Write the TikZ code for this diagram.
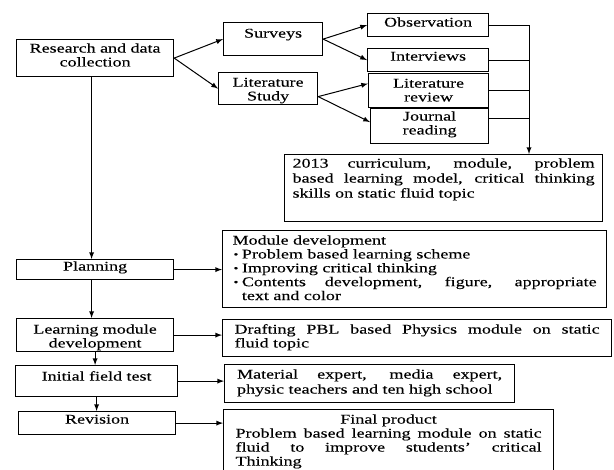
\documentclass[tikz,border=0pt]{standalone}
\usepackage{fontspec}
\setmainfont{Liberation Serif}[FakeStretch=1.35,FakeBold=0.15]
\usetikzlibrary{calc}

\tikzset{
  box/.style={draw, line width=0.9pt, anchor=north west, inner ysep=0pt, inner xsep=0pt, align=center},
  textbox/.style={box, inner xsep=9pt, align=justify},
  arrow/.style={-latex, line width=0.75pt},
}
\newenvironment{bullets}{\begin{list}{\hspace{0.75pt}\raisebox{0.6pt}{\scalebox{0.75}{\textbullet}}}{\setlength\leftmargin{7pt}\setlength\labelwidth{7pt}\setlength\labelsep{0pt}\setlength\topsep{0pt}\setlength\partopsep{0pt}\setlength\itemsep{0pt}\setlength\parsep{0pt}\let\makelabel\bulletlabel}}{\end{list}}
\newcommand\bulletlabel[1]{\makebox[7pt][l]{#1}}

\begin{document}
\begin{tikzpicture}[x=0.75pt,y=0.75pt,yscale=-1,xscale=1,font=\fontsize{10}{10.4}\selectfont]
\path[use as bounding box, clip] (0,0) rectangle (614,470);

% data collection
\node[box, text width=117.75pt, text height=9.75pt, text depth=18pt] (research) at (16,39) {Research and data\\collection};
\node[box, text width=74.25pt, text height=11.25pt, text depth=13.5pt] (surveys) at (223,22) {Surveys};
\node[box, text width=74.25pt, text height=10.5pt, text depth=13.5pt] (litstudy) at (218,72) {Literature\\Study};
\node[box, text width=90.75pt, text height=9.75pt, text depth=7.5pt] (observation) at (367,13) {Observation};
\node[box, text width=90.75pt, text height=9pt, text depth=8.25pt] (interviews) at (367,48) {Interviews};
\node[box, text width=90pt, text height=10.5pt, text depth=15pt] (litreview) at (368,73) {Literature\\review};
\node[box, text width=88.5pt, text height=9pt, text depth=17.25pt] (journal) at (370,108) {Journal\\reading};
\node[textbox, inner xsep=6pt, text width=226.5pt, text height=9.75pt, text depth=40.5pt, font=\fontsize{10}{11.25}\selectfont] (curriculum) at (284,154) {2013 curriculum, module, problem\linebreak based learning model, critical thinking\linebreak skills on static fluid topic};

% stages
\node[box, text width=117.75pt, text height=8.25pt, text depth=6.75pt] (planning) at (16,259) {Planning};
\node[box, text width=117.75pt, text height=11.25pt, text depth=13.5pt] (learning) at (16,318) {Learning module\\development};
\node[box, text width=121.5pt, text height=11.25pt, text depth=12pt] (initial) at (15,365) {Initial field test};
\node[box, text width=117.75pt, text height=9pt, text depth=8.25pt] (revision) at (18,411) {Revision};

% outputs
\node[textbox, inner xsep=7.5pt, text width=273pt, text height=10.5pt, text depth=47.25pt] (module) at (222,230) {Module development
  \begin{bullets}
    \item Problem based learning scheme
    \item Improving critical thinking
    \item Contents development, figure, appropriate\linebreak text and color
  \end{bullets}};
\node[textbox, text width=273.75pt, text height=10.5pt, text depth=17.25pt] (drafting) at (222,319) {Drafting PBL based Physics module on static\linebreak fluid topic};
\node[textbox, inner xsep=9.375pt, text width=198.75pt, text height=10.5pt, text depth=18pt, font=\fontsize{10}{11.25}\selectfont] (material) at (224,364) {Material expert, media expert,\linebreak physic teachers and ten high school};
\node[textbox, text width=229.5pt, text height=10.5pt, text depth=42.75pt, font=\fontsize{10}{10.5}\selectfont] (final) at (223,409) {{\centering Final product\par}Problem based learning module on static\linebreak fluid to improve students' critical\linebreak Thinking};

% connectors
\draw[arrow] (research.east) -- (surveys.west);
\draw[arrow] (research.east) -- (litstudy.west);
\draw[arrow] (surveys.east) -- (observation.west);
\draw[arrow] (surveys.east) -- (interviews.west);
\draw[arrow] ($(litstudy.east)+(0,8)$) -- ($(litreview.west)+(0,-7)$);
\draw[arrow] ($(litstudy.east)+(0,8)$) -- ($(journal.west)+(0,-4)$);

\coordinate (drop) at (529,154);
\draw[arrow] (observation.east) -| (drop);
\draw (interviews.east) -- (interviews.east -| drop);
\draw (litreview.east) -- (litreview.east -| drop);
\draw ($(journal.east)+(0,-7.5)$) -- ($(journal.east -| drop)+(0,-7.5)$);

\draw[arrow] ($(research.south)+(-3.5,0)$) -- ($(planning.north)+(-3.5,0)$);
\draw[arrow] ($(planning.south)+(-3.5,0)$) -- ($(learning.north)+(-3.5,0)$);
\draw[arrow] (learning.south) -- (learning.south |- initial.north);
\draw[arrow] (initial.south) -- (initial.south |- revision.north);

\draw[arrow] (planning.east) -- (planning.east -| module.west);
\draw[arrow] (learning.east) -- (learning.east -| drafting.west);
\draw[arrow] (initial.east) -- (initial.east -| material.west);
\draw[arrow] (revision.east) -- (revision.east -| final.west);

\end{tikzpicture}
\end{document}
